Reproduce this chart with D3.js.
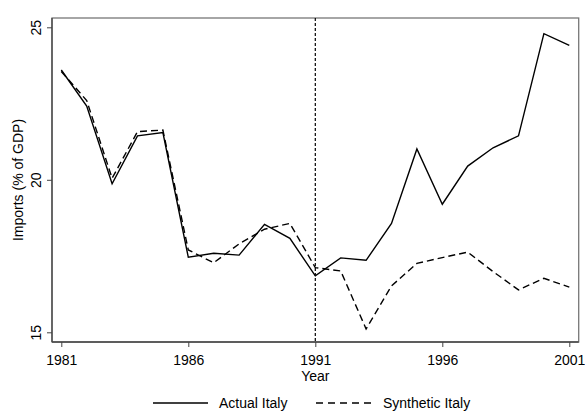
<!DOCTYPE html>
<html>
<head>
<meta charset="utf-8">
<script src="https://cdn.jsdelivr.net/npm/d3@7"></script>
<style>
  html, body { margin: 0; padding: 0; background: #fff; }
  svg { display: block; font-family: "Liberation Sans", Arial, sans-serif; }
</style>
</head>
<body>
<svg id="chart" width="585" height="415"></svg>
<script>
const years = [1981,1982,1983,1984,1985,1986,1987,1988,1989,1990,1991,1992,1993,1994,1995,1996,1997,1998,1999,2000,2001];
const actualItaly = [23.6,22.42,19.87,21.44,21.55,17.46,17.59,17.53,18.54,18.08,16.85,17.44,17.36,18.57,21.01,19.2,20.45,21.05,21.44,24.79,24.41];
const syntheticItaly = [23.55,22.6,20.05,21.58,21.63,17.7,17.28,17.9,18.38,18.57,17.12,17.01,15.11,16.52,17.26,17.45,17.63,16.99,16.39,16.77,16.48];
const xTicks = [1981,1986,1991,1996,2001];
const yTicks = [15,20,25];
const treatmentYear = 1991;
const seriesNames = ["Actual Italy","Synthetic Italy"];

const FONT = '"Liberation Sans", Arial, sans-serif';
const svg = d3.select("#chart");
const L = 52, R = 578.7, T = 18, B = 342;
const x = d3.scaleLinear().domain([1981, 2001]).range([61.3, 569.3]);
const y = d3.scaleLinear().domain([15, 25]).range([332.3, 27.3]);

// frame
svg.append("rect").attr("x", L).attr("y", T).attr("width", R - L).attr("height", B - T)
  .attr("fill", "none").attr("stroke", "#777").attr("stroke-width", 1.3);

// axes
const yAxis = svg.append("g").attr("transform", `translate(${L},0)`)
  .call(d3.axisLeft(y).tickValues(yTicks).tickSize(5).tickPadding(4).tickFormat(d3.format("d")))
  .attr("font-family", FONT);
yAxis.select(".domain").attr("d", `M0,${T}V${B}`).attr("stroke", "#444").attr("stroke-width", 1.3);
yAxis.selectAll(".tick line").attr("stroke", "#444");
yAxis.selectAll(".tick text")
  .attr("font-size", 14).attr("fill", "#000")
  .attr("transform", "rotate(-90)")
  .attr("x", 0).attr("y", -11).attr("dy", 0)
  .attr("text-anchor", "middle");

const xAxis = svg.append("g").attr("transform", `translate(0,${B})`)
  .call(d3.axisBottom(x).tickValues(xTicks).tickSize(5).tickPadding(5).tickFormat(d3.format("d")))
  .attr("font-family", FONT);
xAxis.select(".domain").attr("d", `M${L},0H${R}`).attr("stroke", "#444").attr("stroke-width", 1.3);
xAxis.selectAll(".tick line").attr("stroke", "#444");
xAxis.selectAll(".tick text").attr("font-size", 14).attr("fill", "#000").attr("dy", "0.9em");

// axis titles
svg.append("text").attr("x", x(1991)).attr("y", 381).attr("text-anchor", "middle")
  .attr("font-size", 14).text("Year");
svg.append("text").attr("transform", `translate(23,${(T + B) / 2}) rotate(-90)`)
  .attr("text-anchor", "middle").attr("font-size", 14).text("Imports (% of GDP)");

// treatment line
svg.append("line").attr("x1", x(treatmentYear)).attr("x2", x(treatmentYear))
  .attr("y1", T).attr("y2", B).attr("stroke", "#000").attr("stroke-width", 1.2)
  .attr("stroke-dasharray", "3,2");

const line = d3.line().x((d, i) => x(years[i])).y(d => y(d));
svg.append("path").datum(actualItaly).attr("d", line)
  .attr("fill", "none").attr("stroke", "#000").attr("stroke-width", 1.4);
svg.append("path").datum(syntheticItaly).attr("d", line)
  .attr("fill", "none").attr("stroke", "#000").attr("stroke-width", 1.4)
  .attr("stroke-dasharray", "7,4");

// legend
const lg = svg.append("g");
lg.append("line").attr("x1", 153).attr("x2", 208).attr("y1", 403).attr("y2", 403)
  .attr("stroke", "#000").attr("stroke-width", 1.4);
lg.append("text").attr("x", 219).attr("y", 408).attr("font-size", 14).text(seriesNames[0]);
lg.append("line").attr("x1", 316).attr("x2", 373).attr("y1", 403).attr("y2", 403)
  .attr("stroke", "#000").attr("stroke-width", 1.4).attr("stroke-dasharray", "7,5");
lg.append("text").attr("x", 383).attr("y", 408).attr("font-size", 14).text(seriesNames[1]);
</script>
</body>
</html>
